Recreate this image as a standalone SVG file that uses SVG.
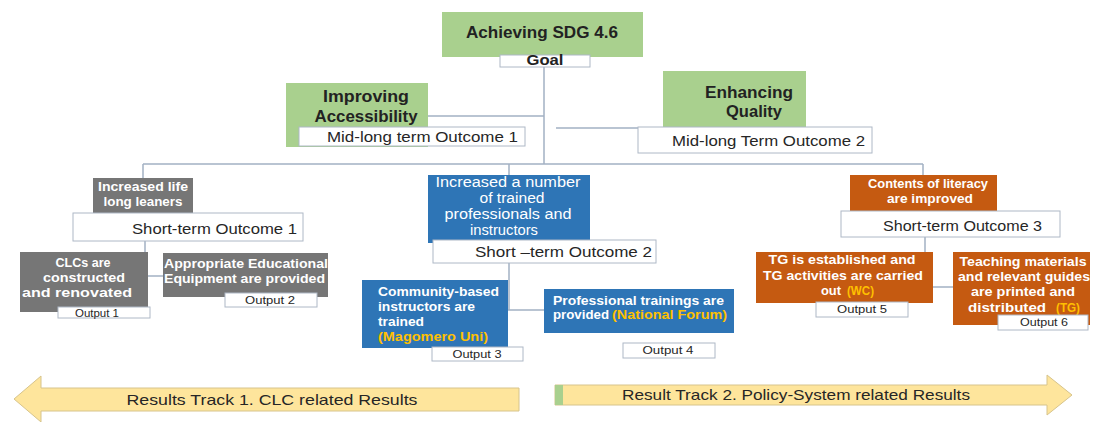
<svg xmlns="http://www.w3.org/2000/svg" width="1093" height="422" viewBox="0 0 1093 422">
<style>
text{font-family:"Liberation Sans",Arial,sans-serif}
.g{fill:#a9d08e}
.gr{fill:#767676}
.bl{fill:#2e75b6}
.or{fill:#c55a11}
.wb{fill:#ffffff;stroke:#aeb8c6;stroke-width:1}
.tk{fill:#222222;font-weight:bold}
.td{fill:#262626}
.tw{fill:#ffffff;font-weight:bold}
.twn{fill:#ffffff}
.ty{fill:#ffc000}
.ln{stroke:#a3b1c4;stroke-width:1.5;fill:none}
.arr{fill:#fee59c;stroke:#d7c48c;stroke-width:1}
</style>
<g id="connectors">
<path class="ln" d="M544 67V164M428 116H544M556 128H638M143 164H923M143 164V178M509 164V175M923 164V175M145 241V252M148 276H163M509 263V310M508 310H544M925 237V287M933 287H953"/>
</g>
<g id="goal">
<rect class="g" x="442" y="12" width="201" height="45"/>
<text class="tk" x="542" y="38" font-size="17" text-anchor="middle" textLength="152" lengthAdjust="spacingAndGlyphs">Achieving SDG 4.6</text>
<rect class="wb" x="500" y="55" width="90" height="12"/>
<text class="tk" x="545" y="65" font-size="14" text-anchor="middle" textLength="37" lengthAdjust="spacingAndGlyphs">Goal</text>
</g>
<g id="mid1">
<rect class="g" x="286" y="83" width="142" height="64"/>
<text class="tk" x="366" y="102" font-size="16" text-anchor="middle" textLength="86" lengthAdjust="spacingAndGlyphs">Improving</text>
<text class="tk" x="366" y="122" font-size="16" text-anchor="middle" textLength="103" lengthAdjust="spacingAndGlyphs">Accessibility</text>
<rect class="wb" x="299" y="127" width="226" height="19"/>
<text class="td" x="327" y="142" font-size="15" textLength="191" lengthAdjust="spacingAndGlyphs">Mid-long term Outcome 1</text>
</g>
<g id="mid2">
<rect class="g" x="663" y="71" width="143" height="57"/>
<text class="tk" x="749" y="98" font-size="16" text-anchor="middle" textLength="88" lengthAdjust="spacingAndGlyphs">Enhancing</text>
<text class="tk" x="754" y="117" font-size="16" text-anchor="middle" textLength="56" lengthAdjust="spacingAndGlyphs">Quality</text>
<rect class="wb" x="638" y="127" width="234" height="26"/>
<text class="td" x="672" y="146" font-size="15" textLength="193" lengthAdjust="spacingAndGlyphs">Mid-long Term Outcome 2</text>
</g>
<g id="short1">
<rect class="gr" x="93" y="178" width="100" height="35"/>
<text class="tw" x="143" y="191" font-size="12" text-anchor="middle" textLength="90" lengthAdjust="spacingAndGlyphs">Increased life</text>
<text class="tw" x="143" y="206" font-size="12" text-anchor="middle" textLength="79" lengthAdjust="spacingAndGlyphs">long leaners</text>
<rect class="wb" x="73" y="213" width="230" height="28"/>
<text class="td" x="132" y="234" font-size="15" textLength="165" lengthAdjust="spacingAndGlyphs">Short-term Outcome 1</text>
</g>
<g id="output1">
<rect class="gr" x="20" y="252" width="128" height="60"/>
<text class="tw" x="83" y="267" font-size="12" text-anchor="middle" textLength="55" lengthAdjust="spacingAndGlyphs">CLCs are</text>
<text class="tw" x="84" y="282" font-size="12" text-anchor="middle" textLength="82" lengthAdjust="spacingAndGlyphs">constructed</text>
<text class="tw" x="77" y="297" font-size="12" text-anchor="middle" textLength="110" lengthAdjust="spacingAndGlyphs">and renovated</text>
<rect class="wb" x="58" y="307" width="92" height="11"/>
<text class="td" x="97" y="316.5" font-size="10.5" text-anchor="middle" textLength="44" lengthAdjust="spacingAndGlyphs">Output 1</text>
</g>
<g id="output2">
<rect class="gr" x="163" y="253" width="165" height="44"/>
<text class="tw" x="164" y="268" font-size="12" textLength="164" lengthAdjust="spacingAndGlyphs">Appropriate Educational</text>
<text class="tw" x="164" y="283" font-size="12" textLength="161" lengthAdjust="spacingAndGlyphs">Equipment are provided</text>
<rect class="wb" x="225" y="293" width="92" height="14"/>
<text class="td" x="270" y="304" font-size="10.5" text-anchor="middle" textLength="50" lengthAdjust="spacingAndGlyphs">Output 2</text>
</g>
<g id="short2">
<rect class="bl" x="428" y="175" width="162" height="68"/>
<text class="twn" x="508" y="187" font-size="14" text-anchor="middle" textLength="145" lengthAdjust="spacingAndGlyphs">Increased  a number</text>
<text class="twn" x="512" y="203" font-size="14" text-anchor="middle" textLength="65" lengthAdjust="spacingAndGlyphs">of trained</text>
<text class="twn" x="508" y="219" font-size="14" text-anchor="middle" textLength="127" lengthAdjust="spacingAndGlyphs">professionals  and</text>
<text class="twn" x="504" y="235" font-size="14" text-anchor="middle" textLength="68" lengthAdjust="spacingAndGlyphs">instructors</text>
<rect class="wb" x="433" y="240" width="223" height="23"/>
<text class="td" x="475" y="257" font-size="15" textLength="177" lengthAdjust="spacingAndGlyphs">Short –term Outcome 2</text>
</g>
<g id="output3">
<rect class="bl" x="362" y="280" width="146" height="68"/>
<text class="tw" x="378" y="296" font-size="12" textLength="121" lengthAdjust="spacingAndGlyphs">Community-based</text>
<text class="tw" x="378" y="311" font-size="12" textLength="97" lengthAdjust="spacingAndGlyphs">instructors are</text>
<text class="tw" x="378" y="326" font-size="12" textLength="46" lengthAdjust="spacingAndGlyphs">trained</text>
<text class="tw ty" x="378" y="341" font-size="12" textLength="110" lengthAdjust="spacingAndGlyphs">(Magomero Uni)</text>
<rect class="wb" x="432" y="347" width="91" height="14"/>
<text class="td" x="477" y="358" font-size="10.5" text-anchor="middle" textLength="49" lengthAdjust="spacingAndGlyphs">Output 3</text>
</g>
<g id="output4">
<rect class="bl" x="544" y="289" width="190" height="44"/>
<text class="tw" x="553" y="305" font-size="12" textLength="171" lengthAdjust="spacingAndGlyphs">Professional  trainings are</text>
<text class="tw" x="553" y="319" font-size="12" textLength="56" lengthAdjust="spacingAndGlyphs">provided</text>
<text class="tw ty" x="612" y="319" font-size="12" textLength="115" lengthAdjust="spacingAndGlyphs">(National Forum)</text>
<rect class="wb" x="623" y="343" width="92" height="15"/>
<text class="td" x="668" y="354" font-size="10.5" text-anchor="middle" textLength="51" lengthAdjust="spacingAndGlyphs">Output 4</text>
</g>
<g id="short3">
<rect class="or" x="850" y="175" width="147" height="37"/>
<text class="tw" x="928" y="188" font-size="12" text-anchor="middle" textLength="120" lengthAdjust="spacingAndGlyphs">Contents of literacy</text>
<text class="tw" x="930" y="203" font-size="12" text-anchor="middle" textLength="86" lengthAdjust="spacingAndGlyphs">are improved</text>
<rect class="wb" x="841" y="211" width="219" height="26"/>
<text class="td" x="883" y="231" font-size="15" textLength="159" lengthAdjust="spacingAndGlyphs">Short-term Outcome 3</text>
</g>
<g id="output5">
<rect class="or" x="756" y="252" width="177" height="51"/>
<text class="tw" x="842" y="264" font-size="12" text-anchor="middle" textLength="147" lengthAdjust="spacingAndGlyphs">TG is established and</text>
<text class="tw" x="843" y="280" font-size="12" text-anchor="middle" textLength="160" lengthAdjust="spacingAndGlyphs">TG activities are carried</text>
<text class="tw" x="821" y="295" font-size="12" textLength="20" lengthAdjust="spacingAndGlyphs">out</text>
<text class="tw ty" x="847" y="295" font-size="12" textLength="27" lengthAdjust="spacingAndGlyphs">(WC)</text>
<rect class="wb" x="816" y="302" width="92" height="15"/>
<text class="td" x="862" y="313" font-size="10.5" text-anchor="middle" textLength="50" lengthAdjust="spacingAndGlyphs">Output 5</text>
</g>
<g id="output6">
<rect class="or" x="953" y="252" width="137" height="73"/>
<text class="tw" x="1023" y="266" font-size="12" text-anchor="middle" textLength="127" lengthAdjust="spacingAndGlyphs">Teaching materials</text>
<text class="tw" x="1024" y="281" font-size="12" text-anchor="middle" textLength="132" lengthAdjust="spacingAndGlyphs">and relevant guides</text>
<text class="tw" x="1023" y="296" font-size="12" text-anchor="middle" textLength="104" lengthAdjust="spacingAndGlyphs">are printed and</text>
<text class="tw" x="968" y="312" font-size="12" textLength="78" lengthAdjust="spacingAndGlyphs">distributed</text>
<text class="tw ty" x="1056" y="312" font-size="12" textLength="24" lengthAdjust="spacingAndGlyphs">(TG)</text>
<rect class="wb" x="998" y="315" width="90" height="15"/>
<text class="td" x="1044" y="326" font-size="10.5" text-anchor="middle" textLength="48" lengthAdjust="spacingAndGlyphs">Output 6</text>
</g>
<g id="track1">
<polygon class="arr" points="14,399 41,376 41,388 519,388 519,411 41,411 41,422"/>
<text class="td" x="272" y="405" font-size="15" text-anchor="middle" textLength="291" lengthAdjust="spacingAndGlyphs">Results Track 1. CLC related Results</text>
</g>
<g id="track2">
<polygon class="arr" points="555,385 1047,385 1047,375 1072,395 1047,415 1047,405 555,405"/>
<rect x="555" y="385" width="8" height="20" fill="#a9d08e"/>
<text class="td" x="796" y="400" font-size="15" text-anchor="middle" textLength="348" lengthAdjust="spacingAndGlyphs">Result Track 2. Policy-System related Results</text>
</g>
</svg>
